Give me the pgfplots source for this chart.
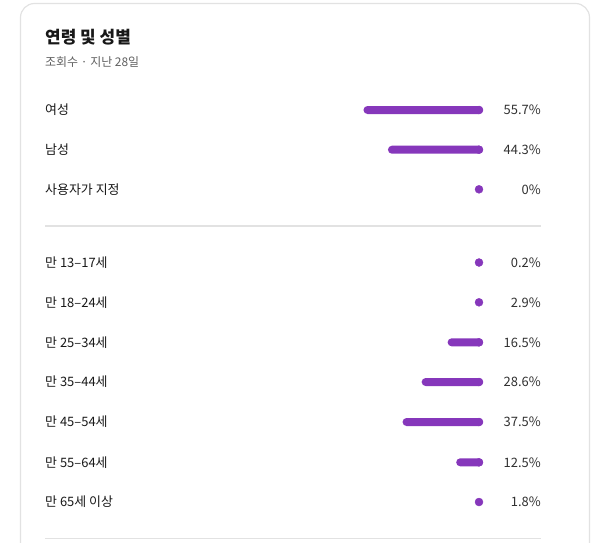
\documentclass[border=0pt]{standalone}
\usepackage{fontspec}
\setmainfont{Noto Sans CJK KR}
\usepackage{pgfplots}
\pgfplotsset{compat=1.18}
\usepackage{pgfplotstable}
\definecolor{barpurple}{RGB}{134,55,187}
\definecolor{cardgray}{RGB}{226,226,226}
\definecolor{subgray}{RGB}{96,96,96}
\definecolor{txt}{RGB}{24,24,24}
\definecolor{pcttxt}{RGB}{48,48,48}
\pgfplotstableread{
y v
110 55.7
149.7 44.3
189.3 0
262.5 0.2
302.3 2.9
342.3 16.5
382 28.6
422 37.5
462.3 12.5
502 1.8
}\bars
\begin{document}
\begin{tikzpicture}
\begin{scope}[x=1bp,y=-1bp]
\path[use as bounding box] (0,0) rectangle (600,543);
\draw[cardgray, line width=1.2bp, rounded corners=14bp] (20.5,620) -- (20.5,3.5) -- (589.5,3.5) -- (589.5,620);
\node[anchor=west, inner sep=0pt, text=txt] at (45,37.5) {\fontsize{17}{20}\selectfont\bfseries 연령 및 성별};
\node[anchor=west, inner sep=0pt, text=subgray] at (45,62) {\fontsize{12}{14}\selectfont 조회수 · 지난 28일};
\draw[cardgray, line width=1.2bp] (45,226) -- (541,226);
\draw[cardgray, line width=1.2bp] (45,538.5) -- (541,538.5);
\foreach \yy/\lab/\pct in {110/여성/55.7\%, 149.7/남성/44.3\%, 189.3/사용자가 지정/0\%, 262.5/만 13–17세/0.2\%, 302.3/만 18–24세/2.9\%, 342.3/만 25–34세/16.5\%, 382/만 35–44세/28.6\%, 422/만 45–54세/37.5\%, 462.3/만 55–64세/12.5\%, 502/만 65세 이상/1.8\%}{
  \node[anchor=west, inner sep=0pt, text=txt] at (45,\yy) {\fontsize{13}{15}\selectfont \lab};
  \node[anchor=east, inner sep=0pt, text=pcttxt] at (541,\yy) {\fontsize{13}{15}\selectfont \pct};
}
\end{scope}
\begin{axis}[at={(0,0)}, anchor=north west, scale only axis, width=600bp, height=543bp,
  xmin=-54.52, xmax=225.07, x dir=reverse, ymin=0, ymax=543, y dir=reverse,
  axis lines=none, clip=false]
\addplot[xbar, bar width=8bp, fill=barpurple, draw=none, rounded corners=4bp, restrict x to domain=3.8:200] table[x=v, y=y] {\bars};
\addplot[only marks, mark=*, mark size=4bp, barpurple, mark options={draw=none, fill=barpurple}] table[x expr=1.864, y=y] {\bars};
\end{axis}
\end{tikzpicture}
\end{document}
